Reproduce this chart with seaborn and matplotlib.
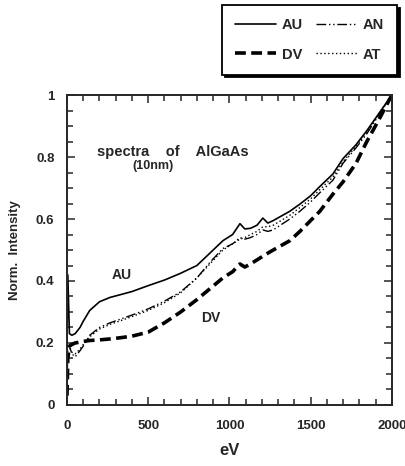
import numpy as np
import pandas as pd
import matplotlib
matplotlib.use("Agg")
import matplotlib.pyplot as plt
import seaborn as sns
from matplotlib.ticker import MultipleLocator

# energy grid (eV) shared by the four spectra
ev = [0, 5, 15, 30, 50, 80, 100, 140, 200, 265, 330, 400, 500, 600, 700, 800,
      880, 960, 1020, 1065, 1095, 1130, 1170, 1206, 1237, 1270, 1372, 1434,
      1500, 1557, 1637, 1700, 1780, 1846, 1920, 2000]

au = [0.20, 0.42, 0.23, 0.225, 0.23, 0.25, 0.27, 0.305, 0.333, 0.347, 0.356,
      0.366, 0.385, 0.403, 0.425, 0.45, 0.49, 0.53, 0.55, 0.585, 0.568, 0.57,
      0.58, 0.603, 0.587, 0.595, 0.625, 0.648, 0.675, 0.705, 0.745, 0.795,
      0.84, 0.885, 0.94, 1.0]
an = [0.05, 0.19, 0.19, 0.165, 0.155, 0.175, 0.19, 0.225, 0.25, 0.265, 0.277,
      0.29, 0.31, 0.335, 0.365, 0.41, 0.46, 0.505, 0.52, 0.54, 0.535, 0.54,
      0.55, 0.565, 0.56, 0.565, 0.60, 0.625, 0.655, 0.685, 0.725, 0.78, 0.83,
      0.875, 0.935, 1.0]
at = [0.19, 0.19, 0.185, 0.17, 0.165, 0.18, 0.195, 0.22, 0.245, 0.26, 0.272,
      0.285, 0.305, 0.33, 0.362, 0.41, 0.455, 0.50, 0.52, 0.535, 0.54, 0.55,
      0.56, 0.575, 0.575, 0.58, 0.612, 0.637, 0.665, 0.695, 0.735, 0.785,
      0.835, 0.88, 0.94, 1.0]
dv = [0.03, 0.15, 0.19, 0.195, 0.20, 0.203, 0.205, 0.208, 0.21, 0.213, 0.217,
      0.222, 0.235, 0.265, 0.30, 0.34, 0.375, 0.41, 0.43, 0.455, 0.445, 0.455,
      0.468, 0.48, 0.49, 0.50, 0.53, 0.56, 0.595, 0.625, 0.68, 0.72, 0.78,
      0.85, 0.92, 1.0]

x_ticks = [0, 500, 1000, 1500, 2000]
x_labels = ["0", "500", "1000", "1500", "2000"]
y_ticks = [0, 0.2, 0.4, 0.6, 0.8, 1.0]
y_labels = ["0", "0.2", "0.4", "0.6", "0.8", "1"]

sns.set_style("ticks")
plt.rcParams["font.family"] = ["Liberation Sans", "DejaVu Sans"]
plt.rcParams["font.weight"] = "bold"

fig = plt.figure(figsize=(4.06, 4.66), dpi=100)
ax = fig.add_axes([0.165, 0.131, 0.80, 0.665])

sns.lineplot(x=ev, y=au, ax=ax, color="black", lw=1.2, label="AU")
sns.lineplot(x=ev, y=dv, ax=ax, color="black", lw=2.6, label="DV",
             linestyle=(0, (3, 1.5)))
sns.lineplot(x=ev, y=an, ax=ax, color="black", lw=1.0, label="AN",
             linestyle=(0, (7, 2, 1, 2, 1, 2)))
sns.lineplot(x=ev, y=at, ax=ax, color="black", lw=1.0, label="AT",
             linestyle=(0, (1, 1.8)))

ax.set_xlim(0, 2000)
ax.set_ylim(0, 1)
ax.set_xticks(x_ticks)
ax.set_xticklabels(x_labels)
ax.set_yticks(y_ticks)
ax.set_yticklabels(y_labels)
ax.xaxis.set_minor_locator(MultipleLocator(100))
ax.yaxis.set_minor_locator(MultipleLocator(0.05))
ax.tick_params(which="both", direction="in", top=True, right=True,
               labelsize=9.5, width=1.1, pad=9)
ax.tick_params(axis="x", which="both", pad=11)
ax.tick_params(which="major", length=6)
ax.tick_params(which="minor", length=4)
for s in ax.spines.values():
    s.set_linewidth(1.4)

ax.set_xlabel("eV", fontsize=12, fontweight="bold", labelpad=8)
ax.set_ylabel("Norm.  Intensity", fontsize=9.5, fontweight="bold", labelpad=11)

ax.text(185, 0.815, "spectra    of    AlGaAs", fontsize=10.5, fontweight="bold",
        ha="left", va="center")
ax.text(530, 0.77, "(10nm)", fontsize=9, fontweight="bold",
        ha="center", va="center")
ax.text(340, 0.42, "AU", fontsize=10, fontweight="bold", ha="center", va="center")
ax.text(886, 0.28, "DV", fontsize=10, fontweight="bold", ha="center", va="center")

leg = ax.legend(ncol=2, loc="upper left", bbox_to_anchor=(0.547, 0.989),
                bbox_transform=fig.transFigure, frameon=True, fancybox=False,
                shadow={"color": "black", "alpha": 1}, edgecolor="black",
                fontsize=10.5, handlelength=2.8, columnspacing=0.9,
                handletextpad=0.4, borderpad=0.9, labelspacing=1.05,
                borderaxespad=0)
leg.get_frame().set_linewidth(1.3)
for t in leg.get_texts():
    t.set_fontweight("bold")

fig.savefig("out.png", dpi=100)
